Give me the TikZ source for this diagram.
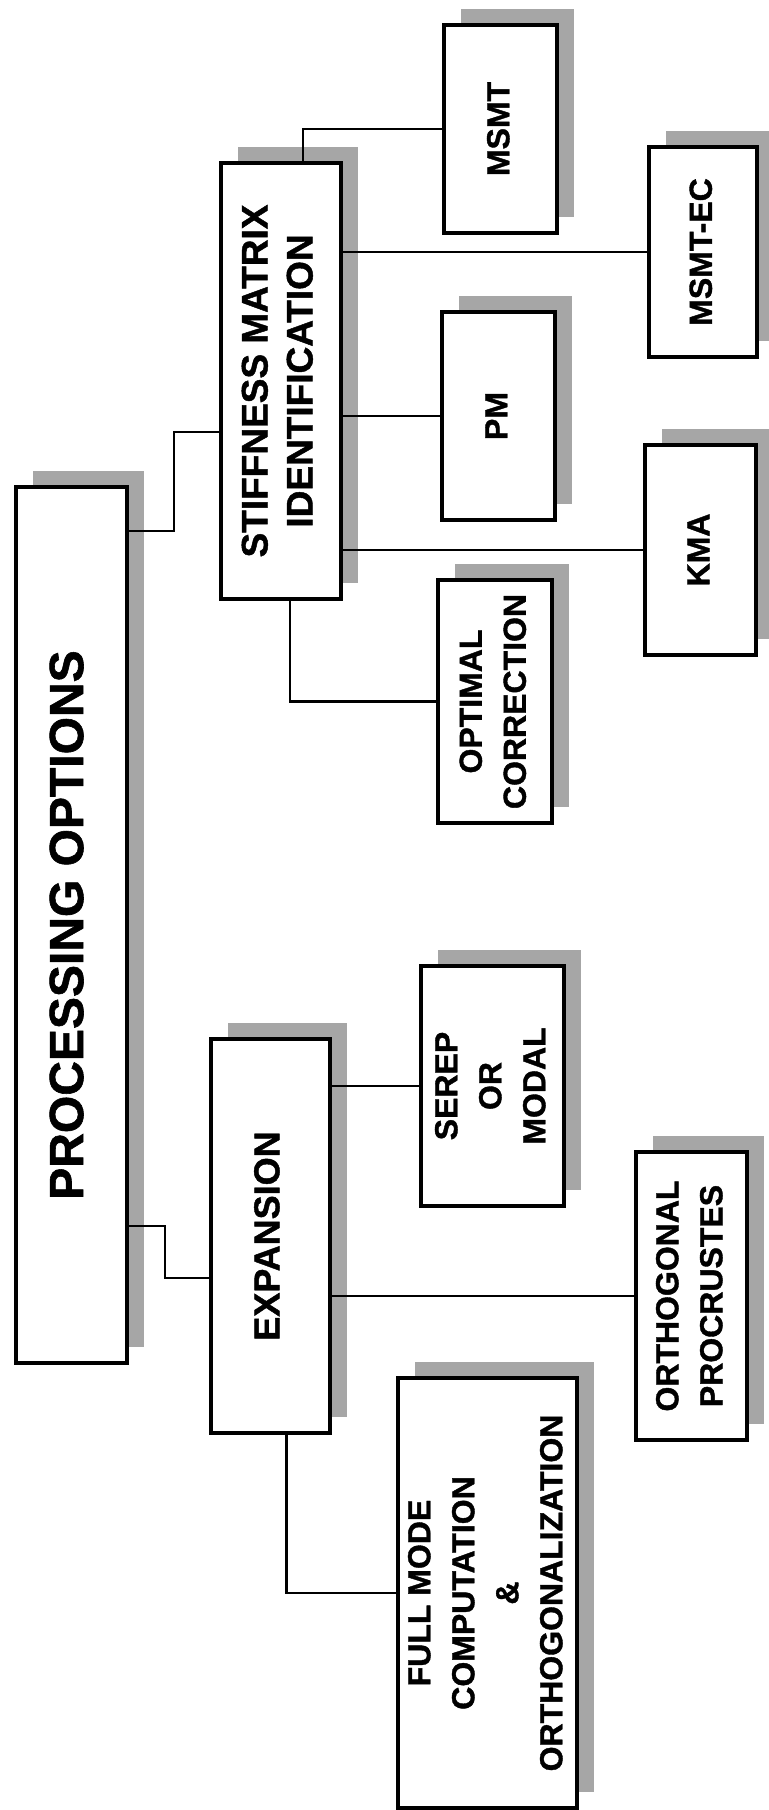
\documentclass[tikz,border=0pt]{standalone}
\usepackage{fontspec}
\setmainfont{Liberation Sans}[BoldFeatures={FakeBold=1.2}]
\usepackage{graphicx}
\usetikzlibrary{calc,shadows}
\newcommand{\vtext}[1]{\rotatebox{90}{\begin{tabular}{@{}c@{}}#1\end{tabular}}}
\tikzset{
  box/.style={draw=black,fill=white,line width=1.8pt,inner sep=0pt,
    general shadow={fill=black!35,shadow xshift=8.5pt,shadow yshift=8pt}},
  sz/.style 2 args={minimum width=#1*0.5pt,minimum height=#2*0.5pt},
  tbig/.style={font=\fontsize{24}{29}\selectfont\bfseries},
  tmid/.style={font=\fontsize{18.5}{22.5}\selectfont\bfseries},
  tsml/.style={font=\fontsize{16}{22}\selectfont\bfseries},
  lnk/.style={draw=black,line width=1.1pt},
}
\begin{document}
\begin{tikzpicture}[x=0.5pt,y=-0.5pt]
  \useasboundingbox (0,0) rectangle (768,1810);
  % root
  \node[box,tbig,sz={111}{876}] (root) at (71.5,925) {\vtext{PROCESSING OPTIONS}};
  % stiffness branch
  \node[box,tmid,sz={120}{436}] (stiff) at (281,381) {\vtext{STIFFNESS MATRIX\\IDENTIFICATION}};
  \node[box,tsml,sz={113}{208}] (msmt) at (500.5,129) {\vtext{MSMT}};
  \node[box,tsml,sz={108}{210}] (msmtec) at (703,252) {\vtext{MSMT-EC}};
  \node[box,tsml,sz={113}{208}] (pm) at (498.5,416) {\vtext{PM}};
  \node[box,tsml,sz={111}{210}] (kma) at (700.5,550) {\vtext{KMA}};
  \node[box,tsml,sz={114}{243}] (oc) at (495,701.5) {\vtext{OPTIMAL\\CORRECTION}};
  % expansion branch
  \node[box,tmid,font=\fontsize{18}{22}\selectfont\bfseries,sz={119}{394}] (exp) at (270.5,1236) {\vtext{EXPANSION}};
  \node[box,tsml,sz={143}{240}] (serep) at (492.5,1086) {\vtext{SEREP\\OR\\MODAL}};
  \node[box,tsml,sz={111}{288}] (orth) at (691.5,1296) {\vtext{ORTHOGONAL\\PROCRUSTES}};
  \node[box,tsml,sz={179}{430}] (full) at (487.5,1593) {\vtext{FULL MODE\\COMPUTATION\\\&\\ORTHOGONALIZATION}};
  % links
  \draw[lnk] ($(root.north east)+(0,46)$) -- ++(45,0) |- ($(stiff.north west)+(0,271)$);
  \draw[lnk] ($(root.south east)+(0,-139)$) -- ++(36,0) |- ($(exp.north west)+(0,241)$);
  \draw[lnk] ($(stiff.north)+(22,0)$) |- (msmt.west);
  \draw[lnk] (stiff.east |- msmtec.west) -- (msmtec.west);
  \draw[lnk] (stiff.east |- pm.west) -- (pm.west);
  \draw[lnk] (stiff.east |- kma.west) -- (kma.west);
  \draw[lnk] ($(stiff.south)+(9,0)$) |- (oc.west);
  \draw[lnk] (exp.east |- serep.west) -- (serep.west);
  \draw[lnk] (exp.east |- orth.west) -- (orth.west);
  \draw[lnk] ($(exp.south)+(16,0)$) |- (full.west);
\end{tikzpicture}
\end{document}
